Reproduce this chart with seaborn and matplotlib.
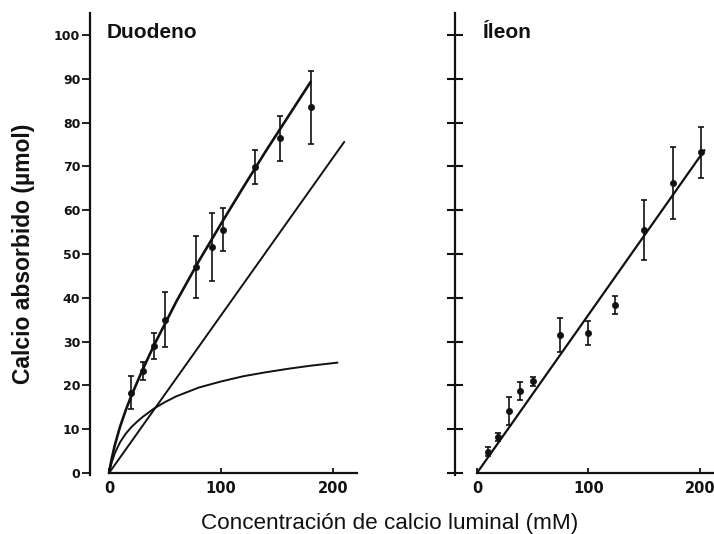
import matplotlib
matplotlib.use("Agg")
import matplotlib.pyplot as plt
import seaborn as sns

# Duodenum: measured absorption (mean, error) vs luminal calcium
duo_x = [20, 30, 40, 50, 78, 92, 102, 130, 153, 180]
duo_y = [18.3, 23.3, 29.0, 35.0, 47.0, 51.6, 55.5, 69.8, 76.4, 83.5]
duo_err = [3.8, 2.0, 2.9, 6.3, 7.0, 7.8, 4.9, 3.9, 5.1, 8.3]

# Duodenum: total curve, saturable component and linear component
duo_total_x = [0, 1, 2.5, 5, 7.5, 10, 15, 20, 30, 40, 60, 80, 100, 120, 140, 160, 180]
duo_total_y = [0, 1.5, 3.4, 6.2, 8.5, 10.7, 14.4, 17.7, 23.6, 29.1, 39.1, 48.3, 56.9,
               65.3, 73.5, 81.4, 89.3]
duo_sat_x = [0, 1, 2.5, 5, 7.5, 10, 15, 20, 25, 30, 40, 50, 60, 80, 100, 120, 140,
             160, 180, 204]
duo_sat_y = [0, 1.1, 2.5, 4.4, 5.8, 7.1, 9.0, 10.5, 11.7, 12.8, 14.7, 16.2, 17.5,
             19.5, 20.9, 22.1, 23.0, 23.8, 24.5, 25.2]
duo_lin_x = [0, 210]
duo_lin_y = [0, 75.6]

# Ileum: measured absorption and linear fit
ile_x = [10, 19, 29, 39, 50, 74.5, 100, 124, 150, 176, 201]
ile_y = [4.9, 8.2, 14.2, 18.7, 20.9, 31.5, 31.9, 38.4, 55.5, 66.3, 73.2]
ile_err = [1.0, 1.0, 3.2, 2.1, 1.0, 3.8, 2.7, 2.1, 6.8, 8.2, 5.9]
ile_fit_x = [0, 204]
ile_fit_y = [0, 73.7]

y_ticks = [0, 10, 20, 30, 40, 50, 60, 70, 80, 90, 100]
x_ticks = [0, 100, 200]
titles = ["Duodeno", "Íleon"]
y_label = "Calcio absorbido (µmol)"
x_label = "Concentración de calcio luminal (mM)"

sns.set_theme(style="ticks")
plt.rcParams["font.family"] = ["Liberation Sans", "DejaVu Sans"]

INK = "#111111"
W, H = 714, 534
fig = plt.figure(figsize=(W / 100, H / 100), dpi=100)
fig.patch.set_facecolor("white")

ymin, ymax = -0.5, 105
bottom = 1 - 475.2 / H
height = (475.2 - 13.1) / H

ax1 = fig.add_axes([90 / W, bottom, 267 / W, height])
ax2 = fig.add_axes([455 / W, bottom, 259 / W, height])
ax1.set_xlim(-17, 221.4)
ax2.set_xlim(-19.7, 212.6)

for ax in (ax1, ax2):
    ax.set_facecolor("white")
    ax.set_ylim(ymin, ymax)
    for s in ("top", "right"):
        ax.spines[s].set_visible(False)
    ax.spines["bottom"].set_position(("data", 0))
    ax.spines["bottom"].set_bounds(0, ax.get_xlim()[1])
    for s in ("left", "bottom"):
        ax.spines[s].set_color(INK)
        ax.spines[s].set_linewidth(1.6)
    ax.set_xticks(x_ticks)
    ax.set_xticklabels([str(v) for v in x_ticks], fontfamily="DejaVu Sans",
                       fontweight="bold", fontsize=10.5, color=INK)
    ax.tick_params(axis="x", direction="in", length=3.5, width=1.3,
                   color=INK, pad=6)
    ax.set_yticks(y_ticks)
    ax.grid(False)

# Left panel y ticks with labels
ax1.set_yticklabels([str(v) for v in y_ticks], fontfamily="DejaVu Sans",
                    fontweight="bold", fontsize=9, color=INK)
ax1.tick_params(axis="y", direction="out", length=5.5, width=1.3,
                color=INK, pad=1.5)
# Right panel: crossing ticks, no labels
ax2.set_yticklabels([])
ax2.tick_params(axis="y", direction="inout", length=11, width=1.5, color=INK)

# Duodenum curves
sns.lineplot(x=duo_total_x, y=duo_total_y, ax=ax1, color=INK, lw=1.9,
             estimator=None, sort=False)
sns.lineplot(x=duo_sat_x, y=duo_sat_y, ax=ax1, color=INK, lw=1.4,
             estimator=None, sort=False)
sns.lineplot(x=duo_lin_x, y=duo_lin_y, ax=ax1, color=INK, lw=1.4,
             estimator=None, sort=False)
ax1.errorbar(duo_x, duo_y, yerr=duo_err, fmt="none", ecolor=INK,
             elinewidth=1.2, capsize=2.3, capthick=1.2)
sns.scatterplot(x=duo_x, y=duo_y, ax=ax1, color=INK, s=20, marker="o",
                edgecolor=INK, linewidth=0.5, zorder=5)

# Ileum line and points
sns.lineplot(x=ile_fit_x, y=ile_fit_y, ax=ax2, color=INK, lw=1.6,
             estimator=None, sort=False)
ax2.errorbar(ile_x, ile_y, yerr=ile_err, fmt="none", ecolor=INK,
             elinewidth=1.2, capsize=2.3, capthick=1.2)
sns.scatterplot(x=ile_x, y=ile_y, ax=ax2, color=INK, s=20, marker="o",
                edgecolor=INK, linewidth=0.5, zorder=5)

for ax in (ax1, ax2):
    ax.set_xlabel("")
    ax.set_ylabel("")

# Panel titles
fig.text(107 / W, 1 - 38 / H, titles[0], fontsize=15, fontweight="bold",
         color=INK, ha="left", va="baseline")
fig.text(483 / W, 1 - 38 / H, titles[1], fontsize=15, fontweight="bold",
         color=INK, ha="left", va="baseline")

# Shared axis labels
fig.text(24 / W, 1 - 253.5 / H, y_label, fontsize=16.5, fontweight="bold",
         color=INK, rotation=90, ha="center", va="center")
fig.text(389.5 / W, 1 - 529 / H, x_label, fontsize=16.2, color=INK,
         ha="center", va="baseline")

fig.savefig("out.png", dpi=100, facecolor="white")
